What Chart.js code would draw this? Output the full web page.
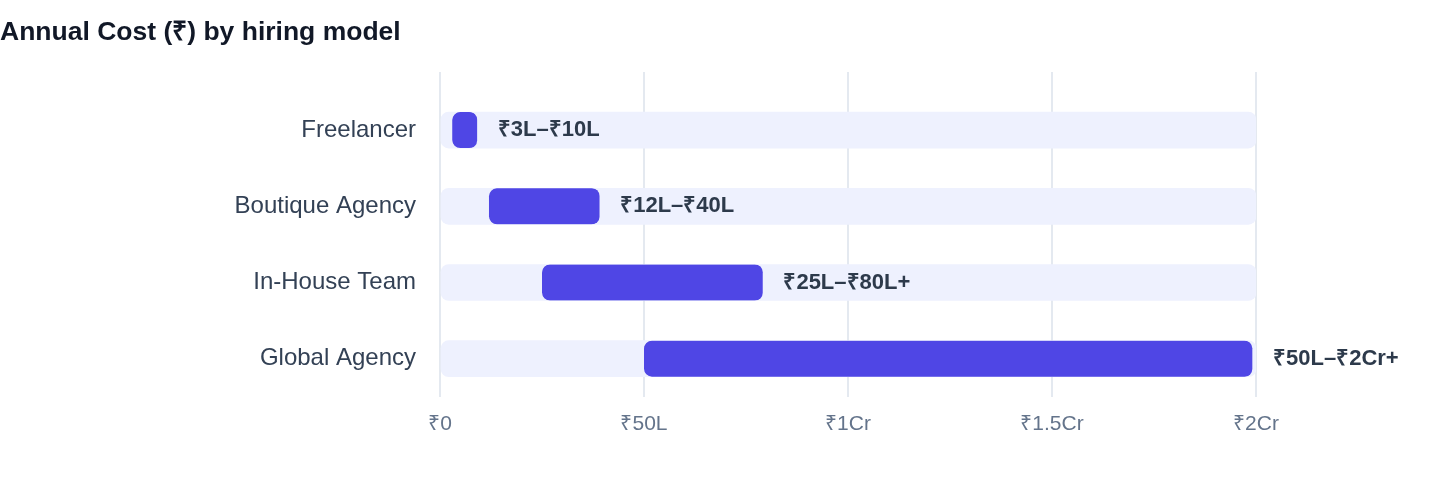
<!DOCTYPE html>
<html>
<head>
<meta charset="utf-8">
<script src="https://cdn.jsdelivr.net/npm/chart.js@4.4.1/dist/chart.umd.min.js"></script>
<style>
  html, body { margin: 0; padding: 0; background: #fff; }
  .wrap { position: relative; width: 1440px; height: 484px; }
  .title {
    position: absolute; left: 0; top: 14px; margin: 0;
    font: bold 26.5px "Liberation Sans", Arial, sans-serif;
    line-height: 34px; color: #111827;
  }
  canvas { position: absolute; left: 0; top: 0; }
</style>
</head>
<body>
<div class="wrap">
  <canvas id="costChart" width="1440" height="484"></canvas>
  <h2 class="title">Annual Cost (₹) by hiring model</h2>
</div>
<script>
// 연간 비용 범위 (단위: lakh, 1Cr = 100L)
const models = ['Freelancer', 'Boutique Agency', 'In-House Team', 'Global Agency'];
const costLow = [3, 12, 25, 50];
const costHigh = [10, 40, 80, 200];
const rangeLabels = ['₹3L–₹10L', '₹12L–₹40L', '₹25L–₹80L+', '₹50L–₹2Cr+'];
const axisMax = 200;
const tickValues = [0, 50, 100, 150, 200];
const tickLabels = ['₹0', '₹50L', '₹1Cr', '₹1.5Cr', '₹2Cr'];

const FONT = '"Liberation Sans", Arial, sans-serif';
const GRID = '#e4e9f0';

// 막대 끝 옆에 범위 텍스트 그리기
const rangeLabelPlugin = {
    id: 'rangeLabels',
    afterDatasetsDraw(chart) {
        const ctx = chart.ctx;
        const meta = chart.getDatasetMeta(0);
        const xScale = chart.scales.x;
        ctx.save();
        ctx.font = 'bold 22px ' + FONT;
        ctx.fillStyle = '#2d3a4b';
        ctx.textBaseline = 'middle';
        ctx.textAlign = 'left';
        meta.data.forEach((bar, i) => {
            ctx.fillText(rangeLabels[i], xScale.getPixelForValue(costHigh[i]) + 17, bar.y);
        });
        ctx.restore();
    }
};

const ctx = document.getElementById('costChart').getContext('2d');
new Chart(ctx, {
    type: 'bar',
    data: {
        labels: models,
        datasets: [
            {
                data: models.map((m, i) => [costLow[i], costHigh[i]]),
                backgroundColor: '#4f46e5',
                borderColor: 'rgba(0,0,0,0)',
                borderWidth: { top: 0, right: 4, bottom: 0, left: 0 },
                borderSkipped: false,
                borderRadius: { topLeft: 8, bottomLeft: 8, topRight: 12, bottomRight: 12 },
                barThickness: 36,
                grouped: false,
                order: 0
            },
            {
                // 배경 트랙 (0 ~ 최대값)
                data: models.map(() => [0, axisMax]),
                backgroundColor: '#eef1fe',
                borderWidth: 0,
                borderSkipped: false,
                borderRadius: 8,
                barThickness: 36,
                grouped: false,
                order: 1
            }
        ]
    },
    options: {
        indexAxis: 'y',
        responsive: false,
        animation: false,
        layout: { padding: { top: 72, right: 184, bottom: 32, left: 0 } },
        scales: {
            x: {
                min: 0,
                max: axisMax,
                border: { display: false },
                grid: { color: GRID, lineWidth: 2, drawTicks: false },
                ticks: {
                    stepSize: 50,
                    padding: 15,
                    color: '#64748b',
                    font: { family: FONT, size: 21 },
                    callback: value => tickLabels[tickValues.indexOf(value)]
                }
            },
            x2: {
                position: 'top',
                min: 0,
                max: axisMax,
                border: { display: false },
                grid: { color: GRID, tickColor: GRID, lineWidth: 2, drawOnChartArea: false, tickLength: 20 },
                ticks: { stepSize: 50, display: false }
            },
            y: {
                border: { display: false },
                grid: { display: false, drawTicks: false },
                ticks: {
                    padding: 24,
                    color: '#334155',
                    font: { family: FONT, size: 24 }
                },
                afterFit: scale => { scale.width = 440; }
            }
        },
        plugins: {
            legend: { display: false },
            tooltip: { enabled: false }
        }
    },
    plugins: [rangeLabelPlugin]
});
</script>
</body>
</html>
